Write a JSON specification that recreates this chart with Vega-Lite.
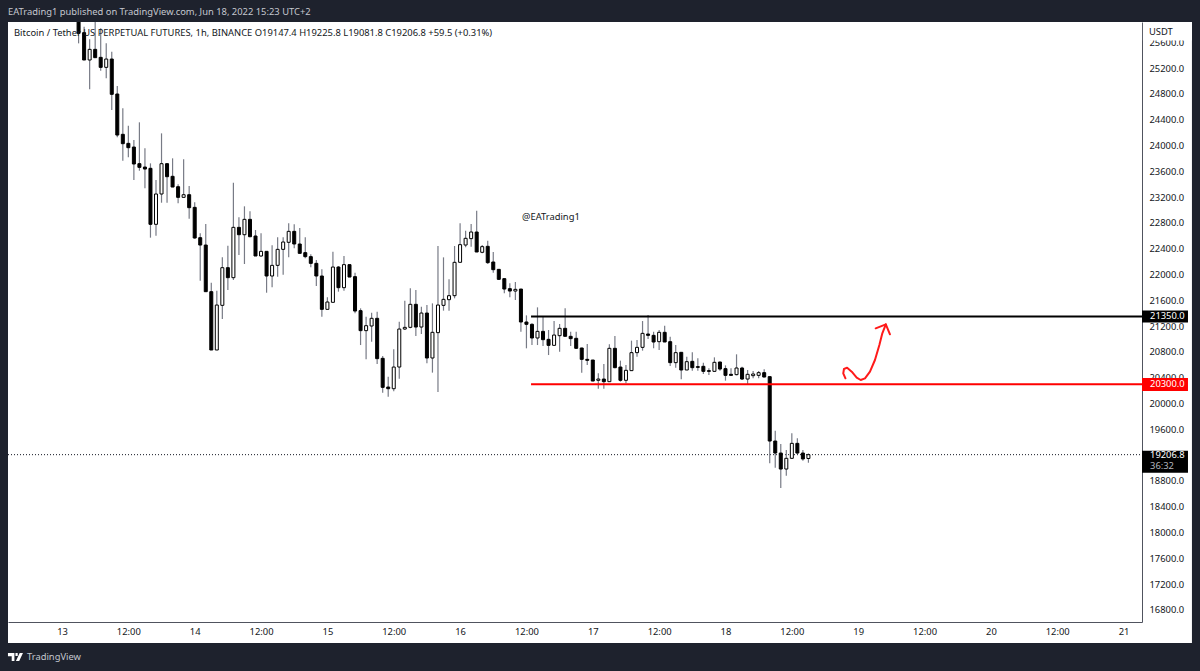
{
  "$schema": "https://vega.github.io/schema/vega-lite/v6.json",
  "description": "BTCUSDT perpetual futures 1h candles, TradingView snapshot",
  "autosize": {"type": "none"},
  "padding": {"left": 8, "top": 22, "right": 58, "bottom": 49},
  "width": 1134,
  "height": 600,
  "background": "#ffffff",
  "config": {
    "font": "Noto Sans",
    "view": {"stroke": null}
  },
  "datasets": {
    "candles": [
      {"t":"2022-06-13T03:00:00Z","open":26300,"high":26400,"low":25582,"close":25737},
      {"t":"2022-06-13T04:00:00Z","open":25748,"high":25841,"low":25324,"close":25324},
      {"t":"2022-06-13T05:00:00Z","open":25324,"high":25644,"low":24869,"close":25489},
      {"t":"2022-06-13T06:00:00Z","open":25489,"high":25918,"low":25360,"close":25360},
      {"t":"2022-06-13T07:00:00Z","open":25365,"high":25815,"low":25159,"close":25210},
      {"t":"2022-06-13T08:00:00Z","open":25210,"high":25582,"low":25040,"close":25339},
      {"t":"2022-06-13T09:00:00Z","open":25339,"high":25453,"low":24549,"close":24792},
      {"t":"2022-06-13T10:00:00Z","open":24797,"high":24921,"low":24125,"close":24161},
      {"t":"2022-06-13T11:00:00Z","open":24172,"high":24575,"low":23763,"close":24027},
      {"t":"2022-06-13T12:00:00Z","open":24032,"high":24306,"low":23815,"close":23965},
      {"t":"2022-06-13T13:00:00Z","open":23975,"high":24084,"low":23464,"close":23712},
      {"t":"2022-06-13T14:00:00Z","open":23717,"high":24358,"low":23608,"close":23660},
      {"t":"2022-06-13T15:00:00Z","open":23665,"high":23955,"low":23335,"close":23634},
      {"t":"2022-06-13T16:00:00Z","open":23645,"high":23722,"low":22570,"close":22777},
      {"t":"2022-06-13T17:00:00Z","open":22777,"high":23464,"low":22601,"close":23247},
      {"t":"2022-06-13T18:00:00Z","open":23247,"high":24187,"low":23112,"close":23717},
      {"t":"2022-06-13T19:00:00Z","open":23717,"high":23722,"low":23112,"close":23515},
      {"t":"2022-06-13T20:00:00Z","open":23521,"high":23800,"low":23355,"close":23355},
      {"t":"2022-06-13T21:00:00Z","open":23360,"high":23397,"low":23102,"close":23195},
      {"t":"2022-06-13T22:00:00Z","open":23195,"high":23784,"low":23195,"close":23236},
      {"t":"2022-06-13T23:00:00Z","open":23236,"high":23371,"low":22864,"close":23035},
      {"t":"2022-06-14T00:00:00Z","open":23040,"high":23118,"low":22554,"close":22565},
      {"t":"2022-06-14T01:00:00Z","open":22570,"high":22637,"low":21903,"close":22456},
      {"t":"2022-06-14T02:00:00Z","open":22456,"high":22782,"low":21733,"close":21733},
      {"t":"2022-06-14T03:00:00Z","open":21733,"high":21872,"low":20829,"close":20829},
      {"t":"2022-06-14T04:00:00Z","open":20829,"high":21748,"low":20829,"close":21526},
      {"t":"2022-06-14T05:00:00Z","open":21521,"high":22265,"low":21309,"close":22105},
      {"t":"2022-06-14T06:00:00Z","open":22105,"high":22446,"low":21759,"close":21950},
      {"t":"2022-06-14T07:00:00Z","open":21950,"high":23423,"low":21914,"close":22730},
      {"t":"2022-06-14T08:00:00Z","open":22730,"high":22885,"low":22301,"close":22616},
      {"t":"2022-06-14T09:00:00Z","open":22616,"high":23056,"low":22162,"close":22854},
      {"t":"2022-06-14T10:00:00Z","open":22854,"high":22978,"low":22575,"close":22585},
      {"t":"2022-06-14T11:00:00Z","open":22596,"high":22689,"low":22286,"close":22286},
      {"t":"2022-06-14T12:00:00Z","open":22286,"high":22637,"low":22275,"close":22358},
      {"t":"2022-06-14T13:00:00Z","open":22358,"high":22358,"low":21717,"close":21976},
      {"t":"2022-06-14T14:00:00Z","open":21976,"high":22451,"low":21800,"close":22141},
      {"t":"2022-06-14T15:00:00Z","open":22141,"high":22575,"low":21965,"close":22389},
      {"t":"2022-06-14T16:00:00Z","open":22389,"high":22575,"low":21996,"close":22503},
      {"t":"2022-06-14T17:00:00Z","open":22498,"high":22792,"low":22265,"close":22668},
      {"t":"2022-06-14T18:00:00Z","open":22668,"high":22777,"low":22405,"close":22472},
      {"t":"2022-06-14T19:00:00Z","open":22472,"high":22720,"low":22327,"close":22327},
      {"t":"2022-06-14T20:00:00Z","open":22338,"high":22575,"low":22250,"close":22276},
      {"t":"2022-06-14T21:00:00Z","open":22276,"high":22312,"low":22110,"close":22172},
      {"t":"2022-06-14T22:00:00Z","open":22172,"high":22224,"low":21821,"close":21976},
      {"t":"2022-06-14T23:00:00Z","open":21976,"high":22079,"low":21346,"close":21459},
      {"t":"2022-06-15T00:00:00Z","open":21459,"high":21645,"low":21459,"close":21573},
      {"t":"2022-06-15T01:00:00Z","open":21568,"high":22353,"low":21568,"close":22115},
      {"t":"2022-06-15T02:00:00Z","open":22115,"high":22131,"low":21733,"close":21795},
      {"t":"2022-06-15T03:00:00Z","open":21795,"high":22286,"low":21749,"close":22152},
      {"t":"2022-06-15T04:00:00Z","open":22152,"high":22152,"low":21960,"close":21960},
      {"t":"2022-06-15T05:00:00Z","open":21966,"high":22028,"low":21397,"close":21433},
      {"t":"2022-06-15T06:00:00Z","open":21439,"high":21475,"low":20906,"close":21129},
      {"t":"2022-06-15T07:00:00Z","open":21129,"high":21346,"low":20684,"close":21206},
      {"t":"2022-06-15T08:00:00Z","open":21201,"high":21408,"low":20958,"close":21320},
      {"t":"2022-06-15T09:00:00Z","open":21320,"high":21423,"low":20612,"close":20695},
      {"t":"2022-06-15T10:00:00Z","open":20700,"high":20736,"low":20167,"close":20250},
      {"t":"2022-06-15T11:00:00Z","open":20255,"high":20415,"low":20105,"close":20229},
      {"t":"2022-06-15T12:00:00Z","open":20229,"high":20839,"low":20188,"close":20565},
      {"t":"2022-06-15T13:00:00Z","open":20565,"high":21268,"low":20384,"close":21154},
      {"t":"2022-06-15T14:00:00Z","open":21154,"high":21594,"low":21139,"close":21180},
      {"t":"2022-06-15T15:00:00Z","open":21180,"high":21785,"low":21165,"close":21537},
      {"t":"2022-06-15T16:00:00Z","open":21537,"high":21759,"low":21046,"close":21185},
      {"t":"2022-06-15T17:00:00Z","open":21185,"high":21501,"low":21077,"close":21402},
      {"t":"2022-06-15T18:00:00Z","open":21402,"high":21526,"low":20622,"close":20705},
      {"t":"2022-06-15T19:00:00Z","open":20705,"high":21552,"low":20478,"close":21103},
      {"t":"2022-06-15T20:00:00Z","open":21098,"high":22441,"low":20178,"close":21526},
      {"t":"2022-06-15T21:00:00Z","open":21521,"high":22265,"low":21439,"close":21614},
      {"t":"2022-06-15T22:00:00Z","open":21609,"high":21924,"low":21439,"close":21671},
      {"t":"2022-06-15T23:00:00Z","open":21671,"high":22441,"low":21630,"close":22188},
      {"t":"2022-06-16T00:00:00Z","open":22188,"high":22792,"low":22188,"close":22462},
      {"t":"2022-06-16T01:00:00Z","open":22456,"high":22679,"low":22420,"close":22560},
      {"t":"2022-06-16T02:00:00Z","open":22555,"high":22782,"low":22431,"close":22658},
      {"t":"2022-06-16T03:00:00Z","open":22658,"high":22989,"low":22348,"close":22348},
      {"t":"2022-06-16T04:00:00Z","open":22343,"high":22456,"low":22327,"close":22431},
      {"t":"2022-06-16T05:00:00Z","open":22436,"high":22524,"low":22162,"close":22183},
      {"t":"2022-06-16T06:00:00Z","open":22193,"high":22348,"low":22028,"close":22074},
      {"t":"2022-06-16T07:00:00Z","open":22079,"high":22079,"low":21914,"close":21924},
      {"t":"2022-06-16T08:00:00Z","open":21935,"high":21935,"low":21707,"close":21774},
      {"t":"2022-06-16T09:00:00Z","open":21780,"high":21862,"low":21645,"close":21743},
      {"t":"2022-06-16T10:00:00Z","open":21743,"high":21883,"low":21604,"close":21769},
      {"t":"2022-06-16T11:00:00Z","open":21774,"high":21774,"low":21113,"close":21263},
      {"t":"2022-06-16T12:00:00Z","open":21263,"high":21366,"low":20855,"close":21227},
      {"t":"2022-06-16T13:00:00Z","open":21227,"high":21242,"low":20906,"close":21015},
      {"t":"2022-06-16T14:00:00Z","open":21015,"high":21490,"low":20906,"close":21118},
      {"t":"2022-06-16T15:00:00Z","open":21118,"high":21346,"low":20891,"close":20989},
      {"t":"2022-06-16T16:00:00Z","open":20994,"high":21139,"low":20751,"close":20901},
      {"t":"2022-06-16T17:00:00Z","open":20901,"high":21278,"low":20901,"close":21061},
      {"t":"2022-06-16T18:00:00Z","open":21051,"high":21232,"low":20803,"close":21165},
      {"t":"2022-06-16T19:00:00Z","open":21165,"high":21475,"low":21041,"close":21041},
      {"t":"2022-06-16T20:00:00Z","open":21041,"high":21113,"low":20891,"close":21005},
      {"t":"2022-06-16T21:00:00Z","open":21010,"high":21113,"low":20850,"close":20855},
      {"t":"2022-06-16T22:00:00Z","open":20860,"high":20865,"low":20478,"close":20684},
      {"t":"2022-06-16T23:00:00Z","open":20684,"high":20922,"low":20596,"close":20669},
      {"t":"2022-06-17T00:00:00Z","open":20674,"high":20674,"low":20348,"close":20348},
      {"t":"2022-06-17T01:00:00Z","open":20359,"high":20467,"low":20230,"close":20379},
      {"t":"2022-06-17T02:00:00Z","open":20379,"high":20612,"low":20230,"close":20338},
      {"t":"2022-06-17T03:00:00Z","open":20338,"high":20917,"low":20338,"close":20855},
      {"t":"2022-06-17T04:00:00Z","open":20855,"high":21046,"low":20545,"close":20555},
      {"t":"2022-06-17T05:00:00Z","open":20565,"high":20664,"low":20338,"close":20359},
      {"t":"2022-06-17T06:00:00Z","open":20359,"high":20596,"low":20312,"close":20514},
      {"t":"2022-06-17T07:00:00Z","open":20509,"high":20974,"low":20509,"close":20788},
      {"t":"2022-06-17T08:00:00Z","open":20788,"high":20984,"low":20726,"close":20870},
      {"t":"2022-06-17T09:00:00Z","open":20870,"high":21278,"low":20819,"close":21087},
      {"t":"2022-06-17T10:00:00Z","open":21077,"high":21371,"low":20999,"close":21056},
      {"t":"2022-06-17T11:00:00Z","open":21056,"high":21113,"low":20855,"close":20953},
      {"t":"2022-06-17T12:00:00Z","open":20958,"high":21139,"low":20829,"close":21103},
      {"t":"2022-06-17T13:00:00Z","open":21103,"high":21206,"low":20953,"close":20953},
      {"t":"2022-06-17T14:00:00Z","open":20958,"high":21036,"low":20581,"close":20633},
      {"t":"2022-06-17T15:00:00Z","open":20633,"high":20906,"low":20555,"close":20788},
      {"t":"2022-06-17T16:00:00Z","open":20793,"high":20793,"low":20374,"close":20519},
      {"t":"2022-06-17T17:00:00Z","open":20519,"high":20726,"low":20519,"close":20648},
      {"t":"2022-06-17T18:00:00Z","open":20653,"high":20793,"low":20509,"close":20555},
      {"t":"2022-06-17T19:00:00Z","open":20571,"high":20700,"low":20509,"close":20560},
      {"t":"2022-06-17T20:00:00Z","open":20576,"high":20633,"low":20457,"close":20498},
      {"t":"2022-06-17T21:00:00Z","open":20509,"high":20545,"low":20441,"close":20498},
      {"t":"2022-06-17T22:00:00Z","open":20498,"high":20715,"low":20493,"close":20638},
      {"t":"2022-06-17T23:00:00Z","open":20643,"high":20648,"low":20509,"close":20534},
      {"t":"2022-06-18T00:00:00Z","open":20540,"high":20591,"low":20354,"close":20436},
      {"t":"2022-06-18T01:00:00Z","open":20452,"high":20545,"low":20436,"close":20436},
      {"t":"2022-06-18T02:00:00Z","open":20447,"high":20762,"low":20436,"close":20550},
      {"t":"2022-06-18T03:00:00Z","open":20550,"high":20571,"low":20364,"close":20379},
      {"t":"2022-06-18T04:00:00Z","open":20379,"high":20519,"low":20302,"close":20452},
      {"t":"2022-06-18T05:00:00Z","open":20431,"high":20503,"low":20390,"close":20457},
      {"t":"2022-06-18T06:00:00Z","open":20436,"high":20503,"low":20390,"close":20478},
      {"t":"2022-06-18T07:00:00Z","open":20478,"high":20529,"low":20405,"close":20410},
      {"t":"2022-06-18T08:00:00Z","open":20416,"high":20416,"low":19072,"close":19418},
      {"t":"2022-06-18T09:00:00Z","open":19418,"high":19579,"low":19005,"close":19232},
      {"t":"2022-06-18T10:00:00Z","open":19232,"high":19372,"low":18690,"close":18984},
      {"t":"2022-06-18T11:00:00Z","open":18984,"high":19279,"low":18881,"close":19150},
      {"t":"2022-06-18T12:00:00Z","open":19150,"high":19537,"low":19139,"close":19382},
      {"t":"2022-06-18T13:00:00Z","open":19382,"high":19460,"low":19217,"close":19232},
      {"t":"2022-06-18T14:00:00Z","open":19232,"high":19279,"low":19113,"close":19140},
      {"t":"2022-06-18T15:00:00Z","open":19147.4,"high":19225.8,"low":19081.8,"close":19206.8}
    ],
    "levels": [
      {"t":"2022-06-16T12:50:00Z","t2":"2022-06-21T03:20:00Z","price":21350,"kind":"resistance"},
      {"t":"2022-06-16T12:50:00Z","t2":"2022-06-21T03:20:00Z","price":20300,"kind":"support"}
    ],
    "lastPrice": [
      {"t":"2022-06-12T14:14:00Z","t2":"2022-06-21T03:20:00Z","price":19206.8}
    ],
    "arrow": [
      {"n":1,"part":"curve","t":"2022-06-18T21:42:00Z","price":20390},
      {"n":2,"part":"curve","t":"2022-06-18T21:18:00Z","price":20467},
      {"n":3,"part":"curve","t":"2022-06-18T21:26:00Z","price":20534},
      {"n":4,"part":"curve","t":"2022-06-18T22:00:00Z","price":20555},
      {"n":5,"part":"curve","t":"2022-06-18T22:50:00Z","price":20493},
      {"n":6,"part":"curve","t":"2022-06-18T23:44:00Z","price":20400},
      {"n":7,"part":"curve","t":"2022-06-19T00:27:00Z","price":20364},
      {"n":8,"part":"curve","t":"2022-06-19T01:14:00Z","price":20390},
      {"n":9,"part":"curve","t":"2022-06-19T02:08:00Z","price":20493},
      {"n":10,"part":"curve","t":"2022-06-19T03:02:00Z","price":20674},
      {"n":11,"part":"curve","t":"2022-06-19T03:50:00Z","price":20906},
      {"n":12,"part":"curve","t":"2022-06-19T04:22:00Z","price":21088},
      {"n":13,"part":"curve","t":"2022-06-19T05:00:00Z","price":21227},
      {"n":14,"part":"head","t":"2022-06-19T03:10:00Z","price":21165},
      {"n":15,"part":"head","t":"2022-06-19T05:00:00Z","price":21227},
      {"n":16,"part":"head","t":"2022-06-19T05:45:00Z","price":21072}
    ],
    "frame": [
      {"t":"2022-06-12T00:00:00Z","t2":"2022-06-12T14:14:00Z","price":14000,"price2":28000},
      {"t":"2022-06-21T12:22:00Z","t2":"2022-06-22T12:00:00Z","price":14000,"price2":28000},
      {"t":"2022-06-12T00:00:00Z","t2":"2022-06-22T12:00:00Z","price":25913,"price2":28000},
      {"t":"2022-06-12T00:00:00Z","t2":"2022-06-22T12:00:00Z","price":14000,"price2":16287}
    ],
    "scaleCover": [
      {"t":"2022-06-21T03:30:00Z","t2":"2022-06-21T12:22:00Z","price":25913,"price2":25625}
    ],
    "tags": [
      {"t":"2022-06-21T03:20:00Z","t2":"2022-06-21T11:39:00Z","price":21443,"price2":21257,"kind":"resistance"},
      {"t":"2022-06-21T03:20:00Z","t2":"2022-06-21T11:39:00Z","price":20395,"price2":20194,"kind":"support"},
      {"t":"2022-06-21T03:20:00Z","t2":"2022-06-21T11:39:00Z","price":19268,"price2":18927,"kind":"last"}
    ],
    "tagLabels": [
      {"t":"2022-06-21T04:47:00Z","price":21350,"label":"21350.0"},
      {"t":"2022-06-21T04:47:00Z","price":20300,"label":"20300.0"},
      {"t":"2022-06-21T04:47:00Z","price":19206.8,"label":"19206.8"}
    ],
    "countdown": [
      {"t":"2022-06-21T04:47:00Z","price":19035,"label":"36:32"}
    ],
    "chartLegend": [
      {"t":"2022-06-12T15:19:00Z","price":25743,"label":"Bitcoin / Tether US PERPETUAL FUTURES, 1h, BINANCE  O19147.4 H19225.8 L19081.8 C19206.8 +59.5 (+0.31%)"},
      {"t":"2022-06-21T04:36:00Z","price":25758,"label":"USDT"},
      {"t":"2022-06-16T11:12:00Z","price":22890,"label":"@EATrading1"}
    ],
    "header": [
      {"t":"2022-06-12T14:14:00Z","price":26068,"label":"EATrading1 published on TradingView.com, Jun 18, 2022 15:23 UTC+2"},
      {"t":"2022-06-12T17:40:00Z","price":16070,"label":"TradingView"}
    ],
    "logo": [
      {"t":"2022-06-12T15:35:00Z","price":16070}
    ]
  },
  "encoding": {
    "x": {
      "field": "t",
      "type": "temporal",
      "scale": {"type": "utc", "padding": 0, "domain": [{"year":2022,"month":6,"date":12,"hours":14,"minutes":14,"utc":true}, {"year":2022,"month":6,"date":21,"hours":3,"minutes":20,"utc":true}]},
      "axis": {
        "title": null,
        "grid": false,
        "ticks": false,
        "domainColor": "#50535e",
        "labelColor": "#131722",
        "labelFontSize": 9.4,
        "labelPadding": 5,
        "labelOverlap": false,
        "labelFlush": false,
        "values": [
          {"year":2022,"month":6,"date":13,"hours":0,"utc":true},{"year":2022,"month":6,"date":13,"hours":12,"utc":true},
          {"year":2022,"month":6,"date":14,"hours":0,"utc":true},{"year":2022,"month":6,"date":14,"hours":12,"utc":true},
          {"year":2022,"month":6,"date":15,"hours":0,"utc":true},{"year":2022,"month":6,"date":15,"hours":12,"utc":true},
          {"year":2022,"month":6,"date":16,"hours":0,"utc":true},{"year":2022,"month":6,"date":16,"hours":12,"utc":true},
          {"year":2022,"month":6,"date":17,"hours":0,"utc":true},{"year":2022,"month":6,"date":17,"hours":12,"utc":true},
          {"year":2022,"month":6,"date":18,"hours":0,"utc":true},{"year":2022,"month":6,"date":18,"hours":12,"utc":true},
          {"year":2022,"month":6,"date":19,"hours":0,"utc":true},{"year":2022,"month":6,"date":19,"hours":12,"utc":true},
          {"year":2022,"month":6,"date":20,"hours":0,"utc":true},{"year":2022,"month":6,"date":20,"hours":12,"utc":true},
          {"year":2022,"month":6,"date":21,"hours":0,"utc":true}
        ],
        "labelExpr": "utchours(datum.value) === 0 ? utcFormat(datum.value, '%-d') : '12:00'"
      }
    },
    "y": {
      "field": "price",
      "type": "quantitative",
      "scale": {"domain": [16613, 25913], "nice": false, "zero": false},
      "axis": {
        "title": null,
        "orient": "right",
        "grid": false,
        "ticks": false,
        "domainColor": "#50535e",
        "labelColor": "#131722",
        "labelFontSize": 9.4,
        "labelPadding": 7,
        "labelOverlap": false,
        "format": ".1f",
        "values": [16800, 17200, 17600, 18000, 18400, 18800, 19200, 19600, 20000, 20400, 20800, 21200, 21600, 22000, 22400, 22800, 23200, 23600, 24000, 24400, 24800, 25200, 25600]
      }
    }
  },
  "layer": [
    {
      "data": {"name": "lastPrice", "format": {"parse": {"t": "date", "t2": "date"}}},
      "mark": {"type": "rule", "color": "#131722", "strokeWidth": 1, "strokeDash": [1, 2]},
      "encoding": {"x2": {"field": "t2"}}
    },
    {
      "data": {"name": "candles", "format": {"parse": {"t": "date"}}},
      "mark": {"type": "rule", "color": "#787b86", "strokeWidth": 1.2},
      "encoding": {
        "y": {"field": "low", "type": "quantitative", "title": null},
        "y2": {"field": "high"}
      }
    },
    {
      "data": {"name": "candles", "format": {"parse": {"t": "date"}}},
      "mark": {"type": "bar", "size": 3, "stroke": "#000000", "strokeWidth": 1},
      "encoding": {
        "y": {"field": "open", "type": "quantitative", "title": null},
        "y2": {"field": "close"},
        "fill": {"condition": {"test": "datum.close > datum.open", "value": "#ffffff"}, "value": "#000000"}
      }
    },
    {
      "data": {"name": "levels", "format": {"parse": {"t": "date", "t2": "date"}}},
      "mark": {"type": "rule", "strokeWidth": 2},
      "encoding": {
        "x2": {"field": "t2"},
        "color": {"field": "kind", "type": "nominal", "legend": null, "scale": {"domain": ["resistance", "support", "last"], "range": ["#000000", "#ff0000", "#000000"]}}
      }
    },
    {
      "data": {"name": "arrow", "format": {"parse": {"t": "date"}}},
      "mark": {"type": "line", "color": "#ff1a1a", "strokeWidth": 2, "strokeCap": "round", "strokeJoin": "round"},
      "encoding": {
        "detail": {"field": "part"},
        "order": {"field": "n", "type": "quantitative"}
      }
    },
    {
      "data": {"name": "frame", "format": {"parse": {"t": "date", "t2": "date"}}},
      "mark": {"type": "rect", "color": "#1e222d", "clip": false},
      "encoding": {"x2": {"field": "t2"}, "y2": {"field": "price2"}}
    },
    {
      "data": {"name": "scaleCover", "format": {"parse": {"t": "date", "t2": "date"}}},
      "mark": {"type": "rect", "color": "#ffffff"},
      "encoding": {"x2": {"field": "t2"}, "y2": {"field": "price2"}}
    },
    {
      "data": {"name": "tags", "format": {"parse": {"t": "date", "t2": "date"}}},
      "mark": {"type": "rect"},
      "encoding": {
        "x2": {"field": "t2"},
        "y2": {"field": "price2"},
        "color": {"field": "kind", "type": "nominal", "legend": null}
      }
    },
    {
      "data": {"name": "tagLabels", "format": {"parse": {"t": "date"}}},
      "mark": {"type": "text", "align": "left", "baseline": "middle", "color": "#ffffff", "fontSize": 9.4},
      "encoding": {"text": {"field": "label"}}
    },
    {
      "data": {"name": "countdown", "format": {"parse": {"t": "date"}}},
      "mark": {"type": "text", "align": "left", "baseline": "middle", "color": "#b2b5be", "fontSize": 9.4},
      "encoding": {"text": {"field": "label"}}
    },
    {
      "data": {"name": "chartLegend", "format": {"parse": {"t": "date"}}},
      "mark": {"type": "text", "align": "left", "baseline": "middle", "color": "#131722", "fontSize": 9.4},
      "encoding": {"text": {"field": "label"}}
    },
    {
      "data": {"name": "header", "format": {"parse": {"t": "date"}}},
      "mark": {"type": "text", "align": "left", "baseline": "middle", "color": "#c4c7cf", "fontSize": 9.4},
      "encoding": {"text": {"field": "label"}}
    },
    {
      "data": {"name": "logo", "format": {"parse": {"t": "date"}}},
      "mark": {
        "type": "point",
        "filled": true,
        "color": "#ffffff",
        "opacity": 1,
        "size": 900,
        "shape": "M-0.5 -0.27 L-0.07 -0.27 L-0.07 0.27 L-0.25 0.27 L-0.25 -0.05 L-0.5 -0.05 Z M0.28 -0.27 L0.5 -0.27 L0.25 0.27 L0.03 0.27 Z M0 -0.27 L0.15 -0.27 L0.15 -0.07 L0 -0.07 Z"
      }
    }
  ]
}
